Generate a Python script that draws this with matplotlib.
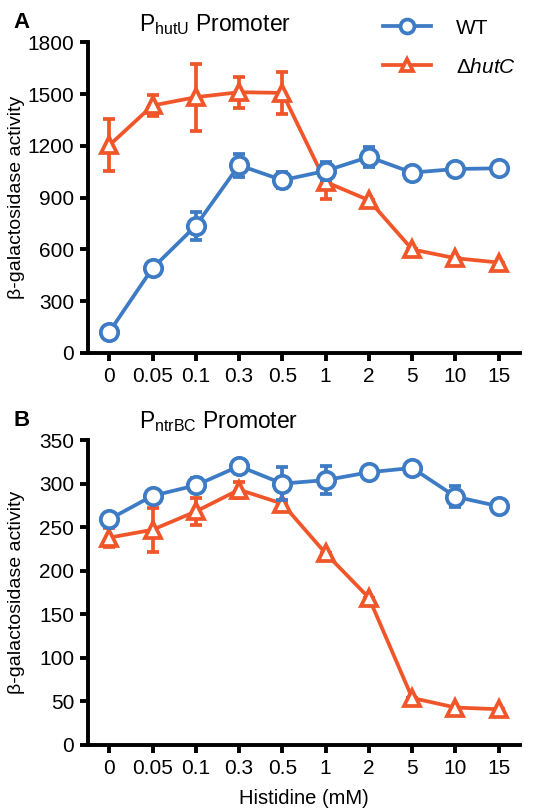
import numpy as np
import matplotlib
matplotlib.use('Agg')
import matplotlib.pyplot as plt

plt.rcParams['font.family'] = ['Liberation Sans', 'DejaVu Sans']
plt.rcParams['mathtext.fontset'] = 'custom'
plt.rcParams['mathtext.rm'] = 'Liberation Sans'
plt.rcParams['mathtext.it'] = 'Liberation Sans:italic'

# Histidine concentrations (categorical axis)
conc_labels = ['0', '0.05', '0.1', '0.3', '0.5', '1', '2', '5', '10', '15']

# Panel A: PhutU promoter
hutU_wt = [121, 491, 737, 1088, 1001, 1055, 1136, 1045, 1066, 1070]
hutU_wt_err = [0, 0, 82, 67, 45, 50, 58, 0, 0, 0]
hutU_mut = [1203, 1434, 1482, 1511, 1507, 991, 885, 600, 549, 524]
hutU_mut_err = [150, 58, 195, 90, 120, 100, 0, 0, 0, 0]

# Panel B: PntrBC promoter
ntr_wt = [259, 286, 298, 320, 300, 304, 313, 318, 285, 274]
ntr_wt_err = [0, 0, 8, 0, 19, 16, 0, 0, 12, 0]
ntr_mut = [238, 247, 268, 293, 277, 220, 169, 54, 43, 41]
ntr_mut_err = [11, 25, 16, 9, 0, 0, 0, 0, 0, 0]

BLUE = '#3d7bc4'
ORANGE = '#f0562a'
LW = 2.7

fig = plt.figure(figsize=(5.45, 8.11), dpi=100)
axA = fig.add_axes([0.1615, 0.5648, 0.7925, 0.383])
axB = fig.add_axes([0.1615, 0.0814, 0.7925, 0.376])

x = np.arange(len(conc_labels))


def draw_panel(ax, wt, wt_err, mut, mut_err, ymax, step):
    for y, err, col, mk in [(mut, mut_err, ORANGE, '^'), (wt, wt_err, BLUE, 'o')]:
        ax.errorbar(x, y, yerr=err, color=col, lw=LW, elinewidth=LW,
                    capsize=4.5, capthick=LW, marker=mk,
                    markersize=12.5 if mk == 'o' else 11,
                    markerfacecolor='white', markeredgecolor=col, markeredgewidth=LW,
                    zorder=3 if mk == 'o' else 2)
    ax.set_xlim(-0.49, 9.49)
    ax.set_ylim(0, ymax)
    ax.set_yticks(np.arange(0, ymax + 1, step))
    ax.set_xticks(x)
    ax.set_xticklabels(conc_labels)
    for s in ['top', 'right']:
        ax.spines[s].set_visible(False)
    for s in ['left', 'bottom']:
        ax.spines[s].set_linewidth(2.8)
    ax.tick_params(width=2.8, length=6, labelsize=15, pad=4)
    ax.set_ylabel('β-galactosidase activity', fontsize=14)
    ax.yaxis.set_label_coords(-0.146, 0.5)


draw_panel(axA, hutU_wt, hutU_wt_err, hutU_mut, hutU_mut_err, 1800, 300)
draw_panel(axB, ntr_wt, ntr_wt_err, ntr_mut, ntr_mut_err, 350, 50)
axB.set_xlabel('Histidine (mM)', fontsize=14.5, labelpad=8)

fig.text(0.025, 0.972, 'A', fontsize=16, fontweight='bold', va='center')
fig.text(0.025, 0.482, 'B', fontsize=16, fontweight='bold', va='center')
fig.text(0.255, 0.970, r'P$_{\mathrm{hutU}}$ Promoter', fontsize=16.5, va='center')
fig.text(0.255, 0.480, r'P$_{\mathrm{ntrBC}}$ Promoter', fontsize=16.5, va='center')

# legend
hw = axA.plot([], [], color=BLUE, lw=LW, marker='o', markersize=10,
              markerfacecolor='white', markeredgewidth=LW)[0]
hm = axA.plot([], [], color=ORANGE, lw=LW, marker='^', markersize=9,
              markerfacecolor='white', markeredgewidth=LW)[0]
fig.legend([hw, hm], ['WT', r'$\mathit{\Delta hutC}$'], loc='upper left',
           bbox_to_anchor=(0.668, 1.0), frameon=False, fontsize=15,
           handlelength=2.3, handletextpad=1.2, labelspacing=0.95)

fig.savefig('out.png', dpi=100)
